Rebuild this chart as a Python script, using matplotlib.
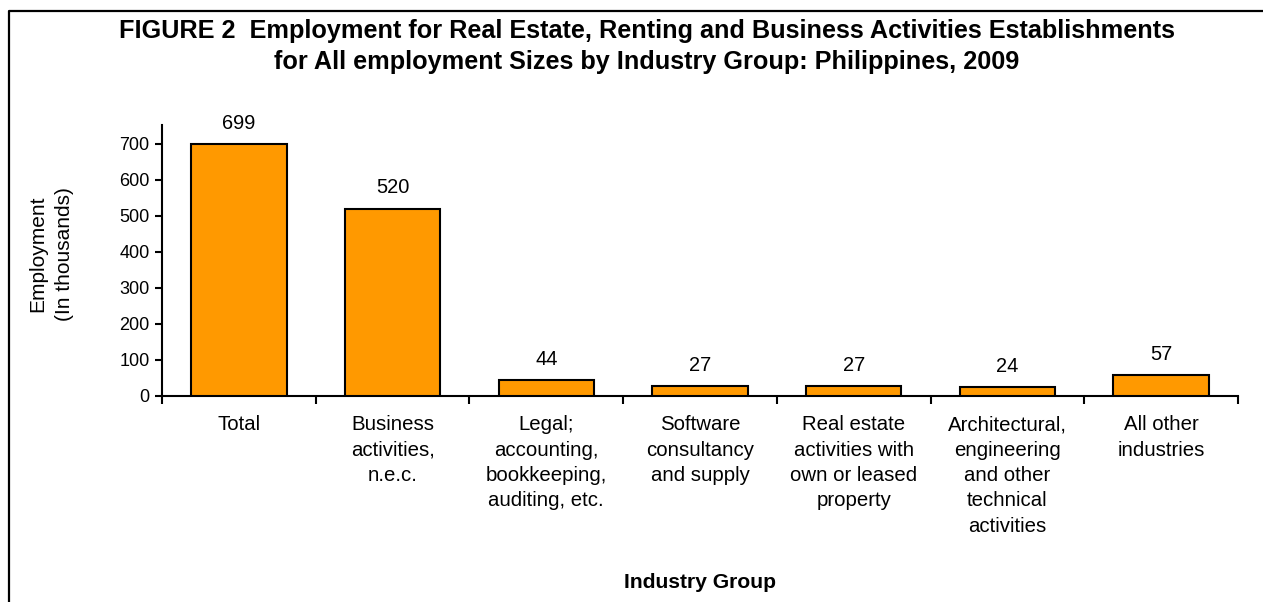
import matplotlib
matplotlib.use("Agg")
import matplotlib.pyplot as plt
from matplotlib.lines import Line2D

categories = ["Total", "Business\nactivities,\nn.e.c.", "Legal;\naccounting,\nbookkeeping,\nauditing, etc.",
              "Software\nconsultancy\nand supply", "Real estate\nactivities with\nown or leased\nproperty",
              "Architectural,\nengineering\nand other\ntechnical\nactivities", "All other\nindustries"]
values = [699, 520, 44, 27, 27, 24, 57]
yticks = [0, 100, 200, 300, 400, 500, 600, 700]

title1 = "FIGURE 2  Employment for Real Estate, Renting and Business Activities Establishments"
title2 = "for All employment Sizes by Industry Group: Philippines, 2009"

plt.rcParams['font.family'] = ['Liberation Sans', 'DejaVu Sans']

W, H = 1263, 602
fig = plt.figure(figsize=(W / 100, H / 100), dpi=100)

# axes placement in pixels
x0, x1 = 162, 1238
ytop, ybot = 125, 396
ax = fig.add_axes([x0 / W, 1 - ybot / H, (x1 - x0) / W, (ybot - ytop) / H])

n = len(categories)
pos = list(range(n))
ax.bar(pos, values, width=0.62, color="#FF9900", edgecolor="black", linewidth=1.5, zorder=3)

ax.set_xlim(-0.5, n - 0.5)
ax.set_ylim(0, 752)

for p, v in zip(pos, values):
    ax.annotate(f"{v}", (p, v), xytext=(0, 8), textcoords="offset points",
                ha="center", va="bottom", fontsize=14.4)

ax.set_yticks(yticks)
ax.set_yticklabels([str(t) for t in yticks], fontsize=13)
ax.tick_params(axis="y", direction="out", length=5, width=1.5, pad=4)

ax.set_xticks(pos)
ax.set_xticklabels(categories, fontsize=14.7, linespacing=1.42)
ax.tick_params(axis="x", which="major", length=0, pad=14)
ax.set_xticks([p - 0.5 for p in pos] + [n - 0.5], minor=True)
ax.tick_params(axis="x", which="minor", direction="out", length=6, width=1.5)

for s in ["top", "right"]:
    ax.spines[s].set_visible(False)
for s in ["left", "bottom"]:
    ax.spines[s].set_linewidth(1.5)

# axis titles
fig.text(51 / W, 1 - 254 / H, "Employment\n(In thousands)", rotation=90, ha="center", va="center",
         fontsize=15, linespacing=1.5)
fig.text(700 / W, 1 - 583 / H, "Industry Group", ha="center", va="center", fontsize=15.2, fontweight="bold")

# title
fig.text(647 / W, 1 - 31 / H, title1, ha="center", va="center", fontsize=18.2, fontweight="bold")
fig.text(647 / W, 1 - 62 / H, title2, ha="center", va="center", fontsize=18.2, fontweight="bold")

# frame
fig.add_artist(Line2D([9 / W, 9 / W, 1.0], [0.0, 1 - 11 / H, 1 - 11 / H],
                      transform=fig.transFigure, color="black", linewidth=1.6))

fig.savefig("out.png", dpi=100)
